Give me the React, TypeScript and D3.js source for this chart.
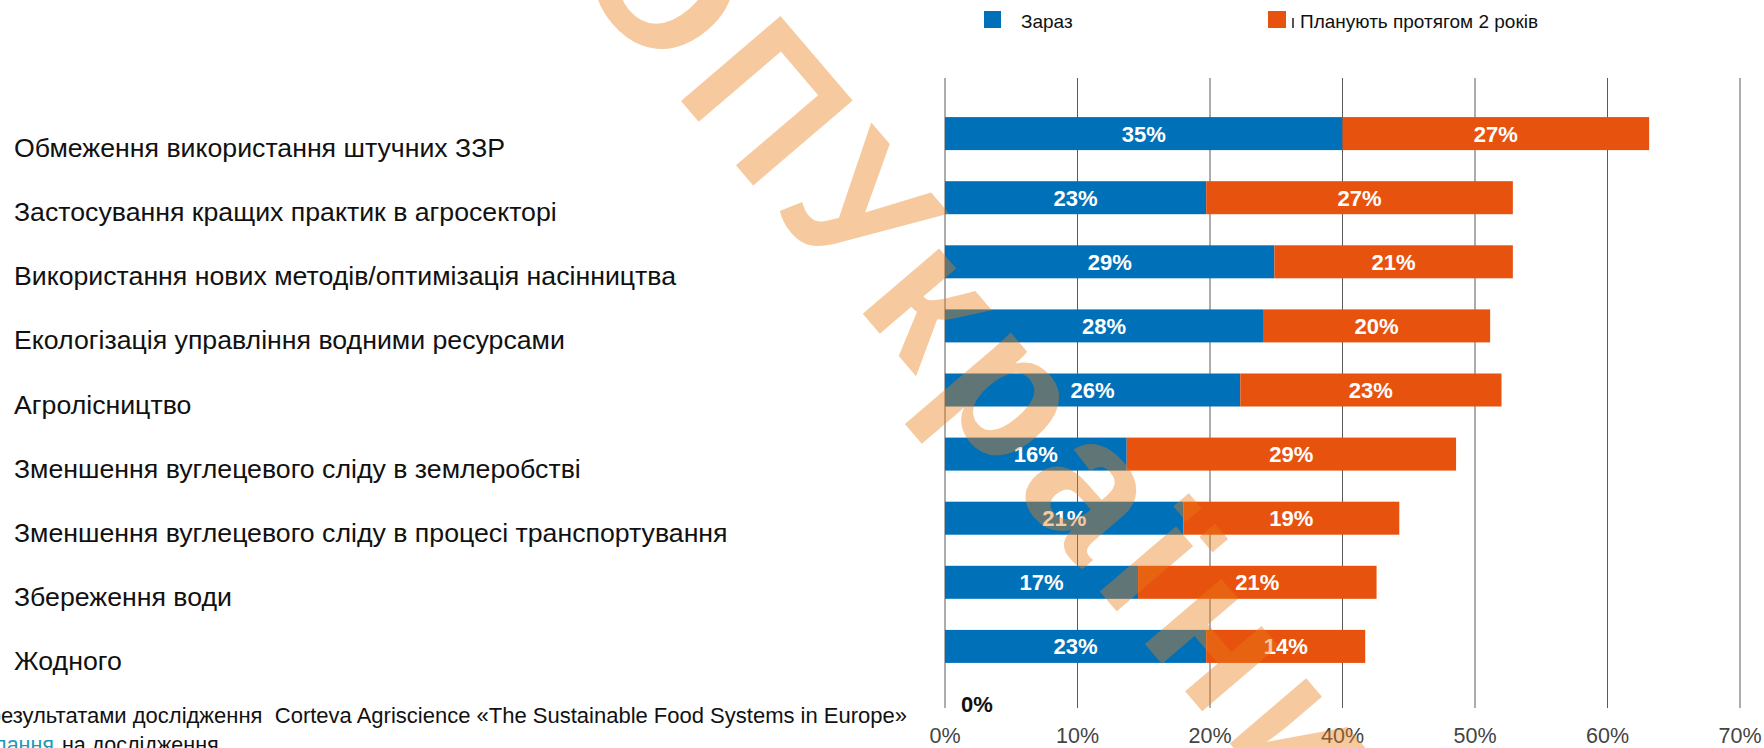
import React from "react";
import * as d3 from "d3";

const categories = [
  "Обмеження використання штучних ЗЗР",
  "Застосування кращих практик в агросекторі",
  "Використання нових методів/оптимізація насінництва",
  "Екологізація управління водними ресурсами",
  "Агролісництво",
  "Зменшення вуглецевого сліду в землеробстві",
  "Зменшення вуглецевого сліду в процесі транспортування",
  "Збереження води",
  "Жодного",
];
const nowValues = [35, 23, 29, 28, 26, 16, 21, 17, 23];
const planValues = [27, 27, 21, 20, 23, 29, 19, 21, 14];
const tickLabels = ["0%", "10%", "20%", "40%", "50%", "60%", "70%"];
const seriesNames = ["Зараз", "Планують протягом 2 років"];
const footerLine1 = "результатами дослідження  Corteva Agriscience «The Sustainable Food Systems in Europe»";
const footerLink = "Посилання";
const footerLine2 = "на дослідження";
const watermark = "ОПУкраїни";

const W = 1764;
const H = 748;
const BLUE = "#0071b9";
const ORANGE = "#e8520f";
const FONT = "'Liberation Sans', Arial, Helvetica, sans-serif";

export default function App() {
  const x = d3.scaleLinear().domain([0, 70]).range([945, 1740]);
  const gx = d3.scalePoint<string>().domain(tickLabels).range([945, 1740]);
  const y = d3
    .scaleBand<string>()
    .domain(categories)
    .range([86, 694])
    .paddingInner(0.485)
    .paddingOuter(0.485);
  const bw = y.bandwidth();

  return (
    <div style={{ width: W, height: H }}>
      <style>{`body{margin:0;}`}</style>
      <svg width={W} height={H} style={{ display: "block", fontFamily: FONT }}>
        <rect width={W} height={H} fill="#fff" />
        {/* legend */}
        <rect x={984} y={11} width={17} height={17} fill={BLUE} />
        <text x={1021} y={28} fontSize={19} fill="#111">{seriesNames[0]}</text>
        <rect x={1268} y={11} width={18} height={17} fill={ORANGE} />
        <rect x={1292} y={18} width={2} height={10} fill="#555" />
        <text x={1300} y={28} fontSize={19} fill="#111">{seriesNames[1]}</text>

        {/* gridlines */}
        {tickLabels.map((t) => (
          <line
            key={t}
            x1={gx(t)}
            x2={gx(t)}
            y1={78}
            y2={708}
            stroke="#5a5a5a"
            strokeWidth={1}
          />
        ))}
        {tickLabels.map((t) => (
          <text
            key={"l" + t}
            x={gx(t)}
            y={743}
            textAnchor="middle"
            fontSize={21.5}
            fill="#444"
          >
            {t}
          </text>
        ))}
        <text x={961} y={712} fontSize={22} fontWeight="bold" fill="#111">0%</text>

        {/* bars */}
        {categories.map((c, i) => {
          const y0 = y(c)!;
          const a = nowValues[i];
          const b = planValues[i];
          return (
            <g key={c}>
              <rect x={x(0)} y={y0} width={x(a) - x(0)} height={bw} fill={BLUE} />
              <rect x={x(a)} y={y0} width={x(a + b) - x(a)} height={bw} fill={ORANGE} />
              <text
                x={(x(0) + x(a)) / 2}
                y={y0 + bw / 2 + 8}
                textAnchor="middle"
                fontSize={22}
                fontWeight="bold"
                fill="#fff"
              >
                {a}%
              </text>
              <text
                x={(x(a) + x(a + b)) / 2}
                y={y0 + bw / 2 + 8}
                textAnchor="middle"
                fontSize={22}
                fontWeight="bold"
                fill="#fff"
              >
                {b}%
              </text>
              <text x={14} y={y0 + bw / 2 + 23.5} fontSize={26.7} fill="#111">
                {c}
              </text>
            </g>
          );
        })}

        {/* footer */}
        <text
          x={907}
          y={723}
          textAnchor="end"
          fontSize={22}
          fill="#111"
          style={{ whiteSpace: "pre" }}
        >
          {footerLine1}
        </text>
        <text x={54} y={752} textAnchor="end" fontSize={21.5} fill="#1a9bb5" textDecoration="underline">
          {footerLink}
        </text>
        <text x={62} y={752} fontSize={21.5} fill="#111">
          {footerLine2}
        </text>

        {/* watermark */}
        <text
          transform="translate(975,368) rotate(49.5)"
          textAnchor="middle"
          dominantBaseline="middle"
          fontSize={190}
          fontWeight="bold"
          fill="#e87b17"
          fillOpacity={0.41}
          letterSpacing={16}
        >
          {watermark}
        </text>
      </svg>
    </div>
  );
}
